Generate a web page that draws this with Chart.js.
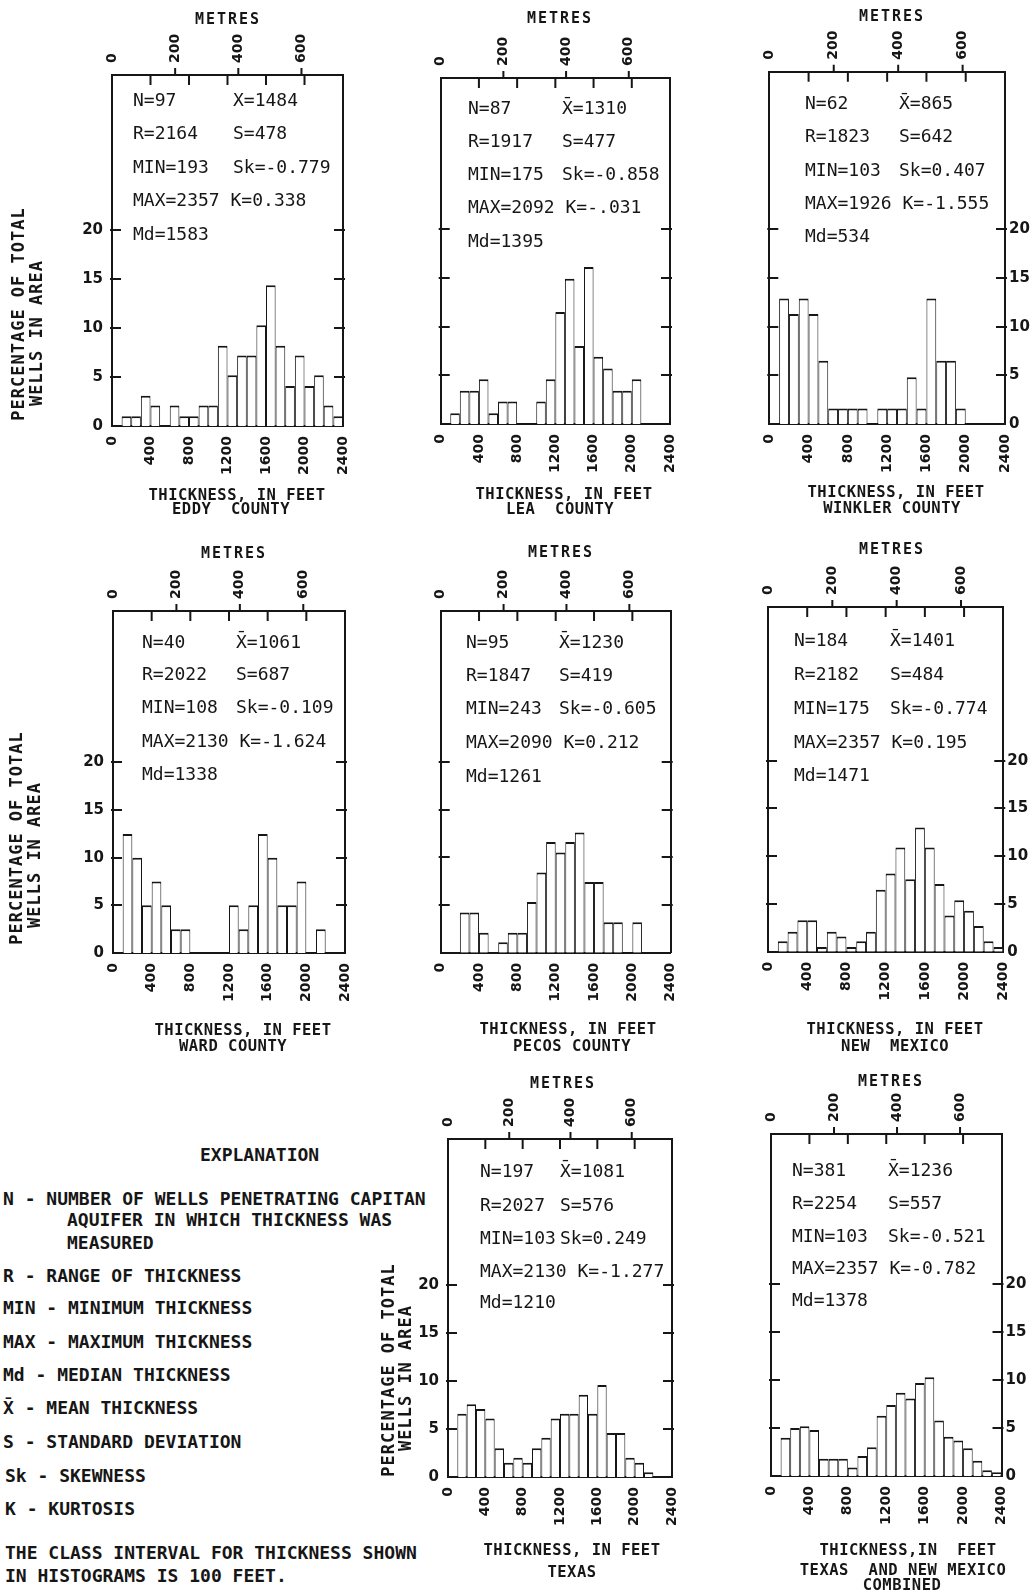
<!DOCTYPE html>
<html>
<head>
<meta charset="utf-8">
<title>Capitan aquifer thickness histograms</title>
<script src="https://cdn.jsdelivr.net/npm/chart.js@4.4.1/dist/chart.umd.min.js"></script>
<style>
  html, body { margin: 0; padding: 0; background: #fff; }
  #page { position: relative; width: 1033px; height: 1595px; overflow: hidden; background: #fff; }
  #page canvas { position: absolute; left: 0; top: 0; }
  .note { position: absolute; font: bold 18px "DejaVu Sans Mono", monospace; line-height: 18px;
          white-space: pre; color: #161616; }
</style>
</head>
<body>
<div id="page">
  <div class="note" style="left:200px; top:1146px;">EXPLANATION</div>
  <div class="note" style="left:3px; top:1190px;">N - NUMBER OF WELLS PENETRATING CAPITAN</div>
  <div class="note" style="left:67px; top:1211px;">AQUIFER IN WHICH THICKNESS WAS</div>
  <div class="note" style="left:67px; top:1234px;">MEASURED</div>
  <div class="note" style="left:3px; top:1267px;">R - RANGE OF THICKNESS</div>
  <div class="note" style="left:3px; top:1299px;">MIN - MINIMUM THICKNESS</div>
  <div class="note" style="left:3px; top:1333px;">MAX - MAXIMUM THICKNESS</div>
  <div class="note" style="left:3px; top:1366px;">Md - MEDIAN THICKNESS</div>
  <div class="note" style="left:3px; top:1399px;">X̄ - MEAN THICKNESS</div>
  <div class="note" style="left:3px; top:1433px;">S - STANDARD DEVIATION</div>
  <div class="note" style="left:5px; top:1467px;">Sk - SKEWNESS</div>
  <div class="note" style="left:5px; top:1500px;">K - KURTOSIS</div>
  <div class="note" style="left:5px; top:1544px;">THE CLASS INTERVAL FOR THICKNESS SHOWN</div>
  <div class="note" style="left:5px; top:1567px;">IN HISTOGRAMS IS 100 FEET.</div>
</div>
<script>
// ---- class midpoints (feet) and axis ticks ----
const binMidFeet = [50, 150, 250, 350, 450, 550, 650, 750, 850, 950, 1050, 1150,
                    1250, 1350, 1450, 1550, 1650, 1750, 1850, 1950, 2050, 2150, 2250, 2350];
const feetTicks = [0, 400, 800, 1200, 1600, 2000, 2400];
const metreTicks = [0, 200, 400, 600];
const percentTicks = [0, 5, 10, 15, 20];

// ---- percentage of wells in each 100-ft class ----
const eddyPct     = [0, 1.0, 1.0, 3.1, 2.1, 0, 2.1, 1.0, 1.0, 2.1, 2.1, 8.2, 5.2, 7.2, 7.2, 10.3, 14.4, 8.2, 4.1, 7.2, 4.1, 5.2, 2.1, 1.0];
const leaPct      = [0, 1.1, 3.4, 3.4, 4.6, 1.1, 2.3, 2.3, 0, 0, 2.3, 4.6, 11.5, 14.9, 8.0, 16.1, 6.9, 5.7, 3.4, 3.4, 4.6, 0, 0, 0];
const winklerPct  = [0, 12.9, 11.3, 12.9, 11.3, 6.5, 1.6, 1.6, 1.6, 1.6, 0, 1.6, 1.6, 1.6, 4.8, 1.6, 12.9, 6.5, 6.5, 1.6, 0, 0, 0, 0];
const wardPct     = [0, 12.5, 10.0, 5.0, 7.5, 5.0, 2.5, 2.5, 0, 0, 0, 0, 5.0, 2.5, 5.0, 12.5, 10.0, 5.0, 5.0, 7.5, 0, 2.5, 0, 0];
const pecosPct    = [0, 0, 4.2, 4.2, 2.1, 0, 1.1, 2.1, 2.1, 5.3, 8.4, 11.6, 10.5, 11.6, 12.6, 7.4, 7.4, 3.2, 3.2, 0, 3.2, 0, 0, 0];
const newMexPct   = [0, 1.1, 2.1, 3.3, 3.3, 0.5, 2.1, 1.6, 0.5, 1.1, 2.1, 6.5, 8.2, 10.9, 7.6, 13.0, 10.9, 7.1, 3.8, 5.4, 4.3, 2.7, 1.1, 0.5];
const texasPct    = [0, 6.6, 7.6, 7.1, 6.1, 3.0, 1.5, 2.0, 1.5, 3.0, 4.1, 6.1, 6.6, 6.6, 8.6, 6.6, 9.6, 4.6, 4.6, 2.0, 1.5, 0.5, 0, 0];
const combinedPct = [0, 4.0, 5.0, 5.2, 4.8, 1.8, 1.8, 1.8, 0.9, 2.1, 3.0, 6.3, 7.4, 8.7, 8.1, 9.7, 10.3, 5.8, 4.1, 3.7, 2.9, 1.6, 0.6, 0.4];

// ---- summary statistics printed in each box ----
const eddyStatsL     = ["N=97", "R=2164", "MIN=193", "MAX=2357 K=0.338", "Md=1583"];
const eddyStatsR     = ["X=1484", "S=478", "Sk=-0.779"];
const leaStatsL      = ["N=87", "R=1917", "MIN=175", "MAX=2092 K=-.031", "Md=1395"];
const leaStatsR      = ["X̄=1310", "S=477", "Sk=-0.858"];
const winklerStatsL  = ["N=62", "R=1823", "MIN=103", "MAX=1926 K=-1.555", "Md=534"];
const winklerStatsR  = ["X̄=865", "S=642", "Sk=0.407"];
const wardStatsL     = ["N=40", "R=2022", "MIN=108", "MAX=2130 K=-1.624", "Md=1338"];
const wardStatsR     = ["X̄=1061", "S=687", "Sk=-0.109"];
const pecosStatsL    = ["N=95", "R=1847", "MIN=243", "MAX=2090 K=0.212", "Md=1261"];
const pecosStatsR    = ["X̄=1230", "S=419", "Sk=-0.605"];
const newMexStatsL   = ["N=184", "R=2182", "MIN=175", "MAX=2357 K=0.195", "Md=1471"];
const newMexStatsR   = ["X̄=1401", "S=484", "Sk=-0.774"];
const texasStatsL    = ["N=197", "R=2027", "MIN=103", "MAX=2130 K=-1.277", "Md=1210"];
const texasStatsR    = ["X̄=1081", "S=576", "Sk=0.249"];
const combinedStatsL = ["N=381", "R=2254", "MIN=103", "MAX=2357 K=-0.782", "Md=1378"];
const combinedStatsR = ["X̄=1236", "S=557", "Sk=-0.521"];

const FEET_PER_METRE = 3.2808;
const PAGE_W = 1033, PAGE_H = 1595;
const INK = '#161616';

// ---- page layout of the eight panels (pixels) ----
const panels = [
  { id: 'eddy', values: eddyPct, statsL: eddyStatsL, statsR: eddyStatsR,
    box: { l: 112, r: 343, t: 75, b: 426 }, yMax: 35.9, yLabels: 'left',
    stats: { x1: 133, x2: 233, ys: [101, 134, 168, 201, 235] },
    metres: { x: 228, y: 20 },
    titles: [{ t: 'THICKNESS, IN FEET', x: 237, y: 496 }, { t: 'EDDY  COUNTY', x: 231, y: 510 }],
    yTitle: { xs: [20, 37.5], ys: [314, 333] } },
  { id: 'lea', values: leaPct, statsL: leaStatsL, statsR: leaStatsR,
    box: { l: 440.7, r: 670, t: 78, b: 424 }, yMax: 35.5, yLabels: null,
    stats: { x1: 468, x2: 562, ys: [109, 142, 175, 208, 242] },
    metres: { x: 560, y: 19 },
    titles: [{ t: 'THICKNESS, IN FEET', x: 564, y: 495 }, { t: 'LEA  COUNTY', x: 560, y: 510 }] },
  { id: 'winkler', values: winklerPct, statsL: winklerStatsL, statsR: winklerStatsR,
    box: { l: 769.3, r: 1005, t: 71.7, b: 424 }, yMax: 36.2, yLabels: 'right',
    stats: { x1: 805, x2: 899, ys: [104.3, 137.7, 171, 204.3, 237.7] },
    metres: { x: 892, y: 17 },
    titles: [{ t: 'THICKNESS, IN FEET', x: 896, y: 493 }, { t: 'WINKLER COUNTY', x: 892, y: 509 }] },
  { id: 'ward', values: wardPct, statsL: wardStatsL, statsR: wardStatsR,
    box: { l: 113, r: 345, t: 611, b: 953 }, yMax: 35.9, yLabels: 'left',
    stats: { x1: 142, x2: 236, ys: [643, 675, 708, 742, 775] },
    metres: { x: 234, y: 554 },
    titles: [{ t: 'THICKNESS, IN FEET', x: 243, y: 1031 }, { t: 'WARD COUNTY', x: 233, y: 1047 }],
    yTitle: { xs: [18, 36], ys: [838, 855] } },
  { id: 'pecos', values: pecosPct, statsL: pecosStatsL, statsR: pecosStatsR,
    box: { l: 440.7, r: 670.7, t: 611, b: 952.7 }, yMax: 35.8, yLabels: null,
    stats: { x1: 466, x2: 559, ys: [643, 676, 709, 743, 777] },
    metres: { x: 561, y: 553 },
    titles: [{ t: 'THICKNESS, IN FEET', x: 568, y: 1030 }, { t: 'PECOS COUNTY', x: 572, y: 1047 }] },
  { id: 'newmexico', values: newMexPct, statsL: newMexStatsL, statsR: newMexStatsR,
    box: { l: 768, r: 1003.3, t: 607, b: 951.7 }, yMax: 36.1, yLabels: 'right',
    stats: { x1: 794, x2: 890, ys: [641, 675, 709, 743, 776] },
    metres: { x: 892, y: 550 },
    titles: [{ t: 'THICKNESS, IN FEET', x: 895, y: 1030 }, { t: 'NEW  MEXICO', x: 895, y: 1047 }] },
  { id: 'texas', values: texasPct, statsL: texasStatsL, statsR: texasStatsR,
    box: { l: 448, r: 672, t: 1139, b: 1477 }, yMax: 35.3, yLabels: 'left',
    stats: { x1: 480, x2: 560, ys: [1172, 1206, 1239, 1272, 1303] },
    metres: { x: 563, y: 1084 },
    titles: [{ t: 'THICKNESS, IN FEET', x: 572, y: 1551 }, { t: 'TEXAS', x: 572, y: 1573 }],
    yTitle: { xs: [390, 407], ys: [1370, 1378] } },
  { id: 'combined', values: combinedPct, statsL: combinedStatsL, statsR: combinedStatsR,
    box: { l: 771, r: 1001.5, t: 1134, b: 1476 }, yMax: 35.7, yLabels: 'right',
    stats: { x1: 792, x2: 888, ys: [1171, 1204, 1237, 1269, 1301] },
    metres: { x: 891, y: 1082 },
    titles: [{ t: 'THICKNESS,IN  FEET', x: 908, y: 1551 }, { t: 'TEXAS  AND NEW MEXICO', x: 903, y: 1571 },
             { t: 'COMBINED', x: 902, y: 1586 }] }
];

// Frame tick marks, statistics and titles for one panel
function panelDecor(p) {
  return {
    id: 'decor_' + p.id,
    afterDraw(chart) {
      const ctx = chart.ctx;
      const { left, right, top } = chart.chartArea;
      const yS = chart.scales.y, xS = chart.scales.x, mS = chart.scales.x2;
      ctx.save();
      ctx.strokeStyle = INK;
      ctx.lineWidth = 2;
      ctx.beginPath();
      percentTicks.forEach(v => {
        if (v === 0) return;
        const py = Math.round(yS.getPixelForValue(v));
        ctx.moveTo(left - 2, py); ctx.lineTo(left + 9, py);
        ctx.moveTo(right - 9, py); ctx.lineTo(right + 2, py);
      });
      feetTicks.forEach(v => {
        if (v <= 0 || v >= 2400) return;
        const px = xS.getPixelForValue(v);
        ctx.moveTo(px, top); ctx.lineTo(px, top + 10);
      });
      metreTicks.forEach(v => {
        if (v <= 0) return;
        const px = mS.getPixelForValue(v);
        ctx.moveTo(px, top - 7); ctx.lineTo(px, top);
      });
      ctx.stroke();

      ctx.fillStyle = INK;
      ctx.textBaseline = 'middle';
      ctx.textAlign = 'left';
      ctx.font = '18px "DejaVu Sans Mono"';
      p.statsL.forEach((t, i) => ctx.fillText(t, p.stats.x1, p.stats.ys[i]));
      p.statsR.forEach((t, i) => ctx.fillText(t, p.stats.x2, p.stats.ys[i]));

      ctx.textAlign = 'center';
      ctx.font = 'bold 15px "DejaVu Sans Mono"';
      if ('letterSpacing' in ctx) ctx.letterSpacing = '2px';
      ctx.fillText('METRES', p.metres.x, p.metres.y);
      if ('letterSpacing' in ctx) ctx.letterSpacing = '0.5px';
      ctx.font = 'bold 15.5px "DejaVu Sans Mono"';
      p.titles.forEach(line => ctx.fillText(line.t, line.x, line.y));

      if (p.yTitle) {
        if ('letterSpacing' in ctx) ctx.letterSpacing = '1px';
        ctx.font = 'bold 17px "DejaVu Sans Mono"';
        ['PERCENTAGE OF TOTAL', 'WELLS IN AREA'].forEach((t, i) => {
          ctx.save();
          ctx.translate(p.yTitle.xs[i], p.yTitle.ys[i]);
          ctx.rotate(-Math.PI / 2);
          ctx.fillText(t, 0, 0);
          ctx.restore();
        });
      }
      if ('letterSpacing' in ctx) ctx.letterSpacing = '0px';
      ctx.restore();
    }
  };
}

// strip sizes reserved around each box for the tick labels
const STRIP = { top: 50, bottom: 62, left: 45, right: 26 };
const tickFont = { family: 'DejaVu Sans', weight: 'bold', size: 14, lineHeight: 1.2 };
const yTickFont = { family: 'DejaVu Sans', weight: 'bold', size: 15 };
const fixedTicks = list => scale => { scale.ticks = list.map(v => ({ value: v })); };

function buildPanel(p) {
  const canvas = document.createElement('canvas');
  canvas.width = PAGE_W;
  canvas.height = PAGE_H;
  document.getElementById('page').appendChild(canvas);

  const border = { display: true, width: 2, color: INK };
  const noGrid = { display: false, drawTicks: false };

  return new Chart(canvas, {
    type: 'bar',
    data: {
      datasets: [{
        data: p.values.map((v, i) => ({ x: binMidFeet[i], y: v })),
        backgroundColor: '#ffffff',
        borderColor: INK,
        borderWidth: { top: 2, left: 1, right: 1, bottom: 0 },
        borderSkipped: 'start',
        categoryPercentage: 1,
        barPercentage: 1,
        inflateAmount: 0,
        xAxisID: 'x',
        yAxisID: 'y'
      }]
    },
    options: {
      responsive: false,
      animation: false,
      devicePixelRatio: 1,
      events: [],
      layout: {
        padding: {
          left: p.box.l - STRIP.left,
          top: p.box.t - STRIP.top,
          right: PAGE_W - p.box.r - STRIP.right,
          bottom: PAGE_H - p.box.b - STRIP.bottom
        }
      },
      plugins: { legend: { display: false }, tooltip: { enabled: false } },
      scales: {
        x: {
          type: 'linear', position: 'bottom', min: 0, max: 2400, offset: false,
          afterBuildTicks: fixedTicks(feetTicks), afterFit: s => { s.height = STRIP.bottom; },
          grid: noGrid, border,
          ticks: { autoSkip: false, minRotation: 90, maxRotation: 90, padding: 10,
                   font: tickFont, color: INK, callback: v => String(v) }
        },
        x2: {
          type: 'linear', position: 'top', min: 0, max: 2400 / FEET_PER_METRE, offset: false,
          afterBuildTicks: fixedTicks(metreTicks), afterFit: s => { s.height = STRIP.top; },
          grid: noGrid, border,
          // rotated labels on a top axis are drawn one line-height to the left; shift them back
          ticks: { autoSkip: false, minRotation: 90, maxRotation: 90, padding: 12, labelOffset: 16.8,
                   font: tickFont, color: INK, callback: v => String(v) }
        },
        y: {
          type: 'linear', position: 'left', min: 0, max: p.yMax,
          afterBuildTicks: fixedTicks(percentTicks), afterFit: s => { s.width = STRIP.left; },
          grid: noGrid, border,
          ticks: { display: p.yLabels === 'left', padding: 9, font: yTickFont, color: INK,
                   callback: v => String(v) }
        },
        y2: {
          type: 'linear', position: 'right', min: 0, max: p.yMax,
          afterBuildTicks: fixedTicks(percentTicks), afterFit: s => { s.width = STRIP.right; },
          grid: noGrid, border,
          ticks: { display: p.yLabels === 'right', padding: 4, font: yTickFont, color: INK,
                   callback: v => String(v) }
        }
      }
    },
    plugins: [panelDecor(p)]
  });
}

panels.forEach(buildPanel);
</script>
</body>
</html>
